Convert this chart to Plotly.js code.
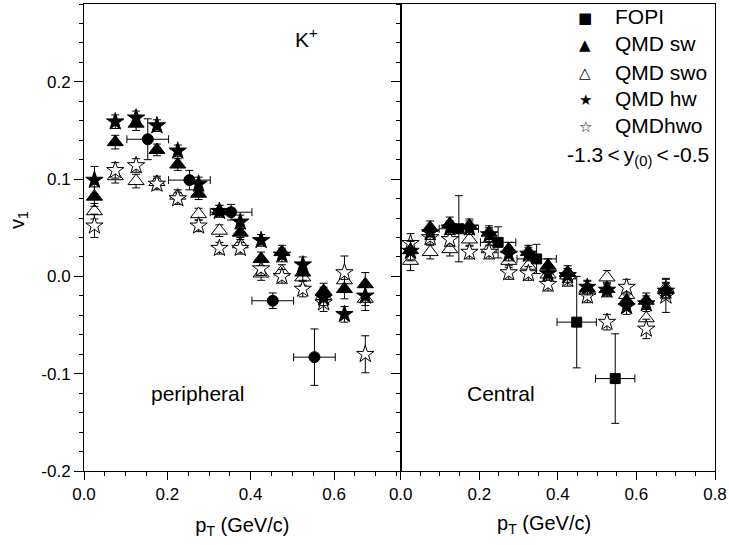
<!DOCTYPE html>
<html><head><meta charset="utf-8">
<script src="https://cdn.plot.ly/plotly-3.0.1.min.js"></script>
<style>html,body{margin:0;padding:0;background:#fff}#chart{width:729px;height:545px}</style>
</head><body><div id="chart"></div>
<script>
// ---------- data ----------
const ptModel = [0.025, 0.075, 0.125, 0.175, 0.225, 0.275, 0.325, 0.375, 0.425, 0.475, 0.525, 0.575, 0.625, 0.675];

// peripheral (left panel)
const perHw     = [0.099, 0.159, 0.163, 0.155, 0.129, 0.095, 0.067, 0.056, 0.037, 0.022, 0.012, -0.022, -0.039, -0.020];
const perHwErr  = [0.014, 0.007, 0.007, 0.006, 0.006, 0.007, 0.006, 0.007, 0.006, 0.007, 0.008, 0.008, 0.008, 0.010];
const perSw     = [0.082, 0.138, 0.157, 0.130, 0.115, 0.085, 0.067, 0.045, 0.018, 0.025, 0.004, -0.015, -0.013, -0.008];
const perSwErr  = [0.010, 0.007, 0.007, 0.006, 0.006, 0.006, 0.006, 0.007, 0.007, 0.007, 0.008, 0.008, 0.010, 0.012];
const perSwo    = [0.067, 0.103, 0.098, 0.097, 0.083, 0.064, 0.047, 0.033, 0.003, 0.005, -0.001, -0.020, -0.004, -0.023];
const perSwoErr = [0.008, 0.007, 0.007, 0.006, 0.006, 0.006, 0.006, 0.007, 0.007, 0.007, 0.008, 0.009, 0.010, 0.012];
const perHwo    = [0.052, 0.109, 0.114, 0.095, 0.080, 0.052, 0.029, 0.029, 0.008, 0.000, -0.013, -0.027, 0.004, -0.080];
const perHwoErr = [0.012, 0.008, 0.007, 0.006, 0.006, 0.006, 0.006, 0.006, 0.007, 0.007, 0.008, 0.009, 0.017, 0.019];
const perFopiPt   = [0.153, 0.253, 0.353, 0.453, 0.553];
const perFopi     = [0.141, 0.099, 0.066, -0.025, -0.083];
const perFopiErr  = [0.021, 0.010, 0.008, 0.008, 0.029];
const perFopiPtErr = [0.05, 0.05, 0.05, 0.05, 0.05];

// central (right panel)
const cenHw     = [0.026, 0.045, 0.050, 0.050, 0.043, 0.023, 0.023, 0.003, 0.001, -0.011, -0.014, -0.031, -0.028, -0.015];
const cenHwErr  = [0.010, 0.007, 0.007, 0.007, 0.007, 0.007, 0.007, 0.007, 0.007, 0.007, 0.007, 0.008, 0.008, 0.008];
const cenSw     = [0.027, 0.050, 0.054, 0.052, 0.045, 0.028, 0.025, 0.011, 0.004, -0.012, -0.013, -0.025, -0.025, -0.014];
const cenSwErr  = [0.010, 0.007, 0.007, 0.007, 0.007, 0.007, 0.007, 0.007, 0.007, 0.007, 0.007, 0.008, 0.008, 0.008];
const cenSwo    = [0.016, 0.025, 0.028, 0.038, 0.028, 0.016, 0.011, 0.002, 0.001, -0.015, -0.001, -0.019, -0.043, -0.012];
const cenSwoErr = [0.010, 0.007, 0.007, 0.007, 0.007, 0.007, 0.007, 0.007, 0.007, 0.007, 0.007, 0.008, 0.009, 0.010];
const cenHwo    = [0.034, 0.040, 0.038, 0.025, 0.025, 0.004, 0.003, -0.008, -0.003, -0.020, -0.047, -0.011, -0.054, -0.020];
const cenHwoErr = [0.010, 0.007, 0.007, 0.007, 0.007, 0.007, 0.007, 0.007, 0.007, 0.007, 0.008, 0.008, 0.010, 0.017];
const cenFopiPt   = [0.148, 0.248, 0.346, 0.448, 0.546];
const cenFopi     = [0.049, 0.035, 0.018, -0.047, -0.105];
const cenFopiErr  = [0.034, 0.016, 0.015, 0.047, 0.046];
const cenFopiPtErr = [0.05, 0.045, 0.05, 0.05, 0.05];

// ticks
const yTickVals = [-0.2, -0.1, 0.0, 0.1, 0.2];
const yTickText = ['-0.2', '-0.1', '0.0', '0.1', '0.2'];
const xTickValsL = [0.0, 0.2, 0.4, 0.6];
const xTickTextL = ['0.0', '0.2', '0.4', '0.6'];
const xTickValsR = [0.0, 0.2, 0.4, 0.6, 0.8];
const xTickTextR = ['0.0', '0.2', '0.4', '0.6', '0.8'];

// legend entries
const legendSymbols = ['\u25A0', '\u25B2', '\u25B3', '\u2605', '\u2606'];
const legendLabels = ['FOPI', 'QMD sw', 'QMD swo', 'QMD hw', 'QMDhwo'];

// ---------- styling ----------
const FONT = 'Liberation Sans, Arial, Helvetica, sans-serif';
const BLACK = '#000';
const ML = 84, MR = 14, MT = 4, MB = 74, W = 729, H = 545;
const PW = W - ML - MR, PH = H - MT - MB;
const px = v => (v - ML) / PW;
const py = v => (H - MB - v) / PH;
const split = px(400.7);

function errY(arr) { return {type: 'data', array: arr, visible: true, color: BLACK, thickness: 1, width: 4}; }
function errX(arr) { return {type: 'data', array: arr, visible: true, color: BLACK, thickness: 1, width: 4}; }

const sym = {
  sw:  {symbol: 'triangle-up', size: 14, color: BLACK, line: {color: BLACK, width: 1}},
  swo: {symbol: 'triangle-up', size: 14, color: '#fff', line: {color: BLACK, width: 1}},
  hw:  {symbol: 'star', size: 13, color: BLACK, line: {color: BLACK, width: 1}},
  hwo: {symbol: 'star', size: 13, color: '#fff', line: {color: BLACK, width: 1}},
  circ: {symbol: 'circle', size: 11, color: BLACK, line: {color: BLACK, width: 1}},
  sq:  {symbol: 'square', size: 10, color: BLACK, line: {color: BLACK, width: 1}}
};

function model(name, x, y, e, m, xa, ya) {
  return {type: 'scatter', mode: 'markers', name, x, y, error_y: errY(e), marker: m,
          xaxis: xa, yaxis: ya, showlegend: false, cliponaxis: false};
}

const traces = [
  model('QMD swo', ptModel, perSwo, perSwoErr, sym.swo, 'x', 'y'),
  model('QMDhwo', ptModel, perHwo, perHwoErr, sym.hwo, 'x', 'y'),
  model('QMD sw', ptModel, perSw, perSwErr, sym.sw, 'x', 'y'),
  model('QMD hw', ptModel, perHw, perHwErr, sym.hw, 'x', 'y'),
  {type: 'scatter', mode: 'markers', name: 'FOPI', x: perFopiPt, y: perFopi,
   error_y: errY(perFopiErr), error_x: errX(perFopiPtErr), marker: sym.circ,
   xaxis: 'x', yaxis: 'y', showlegend: false},
  model('QMD swo', ptModel, cenSwo, cenSwoErr, sym.swo, 'x2', 'y2'),
  model('QMDhwo', ptModel, cenHwo, cenHwoErr, sym.hwo, 'x2', 'y2'),
  model('QMD sw', ptModel, cenSw, cenSwErr, sym.sw, 'x2', 'y2'),
  model('QMD hw', ptModel, cenHw, cenHwErr, sym.hw, 'x2', 'y2'),
  {type: 'scatter', mode: 'markers', name: 'FOPI', x: cenFopiPt, y: cenFopi,
   error_y: errY(cenFopiErr), error_x: errX(cenFopiPtErr), marker: sym.sq,
   xaxis: 'x2', yaxis: 'y2', showlegend: false}
];

const tickFont = {family: FONT, size: 17, color: BLACK};
const titleFont = {family: FONT, size: 20, color: BLACK};
const textFont = {family: FONT, size: 21, color: BLACK};
const yRange = [-0.2, 0.28];

function xAxis(domain, range, vals, text, anchor, title) {
  return {domain, range, anchor, tickmode: 'array', tickvals: vals, ticktext: text,
    showgrid: false, zeroline: false, showline: true, linecolor: BLACK, linewidth: 1, mirror: true,
    ticks: 'outside', ticklen: 8, tickwidth: 1, tickcolor: BLACK, tickfont: tickFont,
    minor: {tickmode: 'linear', tick0: 0, dtick: 0.05, ticks: 'outside', ticklen: 4, tickwidth: 1, tickcolor: BLACK, showgrid: false},
    title: {text: title, font: titleFont, standoff: 14}, fixedrange: true};
}
function topAxis(over, range, anchor) {
  return {overlaying: over, side: 'top', anchor, range, showgrid: false, zeroline: false, showline: false,
    showticklabels: false, tickmode: 'linear', tick0: 0, dtick: 0.2, ticks: 'inside', ticklen: 6, tickwidth: 1, tickcolor: BLACK,
    minor: {tickmode: 'linear', tick0: 0, dtick: 0.05, ticks: 'inside', ticklen: 4, tickwidth: 1, tickcolor: BLACK, showgrid: false}};
}
function yAxisBase(anchor, labels) {
  return {domain: [0, 1], range: yRange, anchor, tickmode: 'array', tickvals: yTickVals, ticktext: yTickText,
    showticklabels: labels, showgrid: false, zeroline: false, showline: true, linecolor: BLACK, linewidth: 1, mirror: true,
    ticks: 'outside', ticklen: 9, tickwidth: 1, tickcolor: BLACK, tickfont: tickFont,
    minor: {tickmode: 'linear', tick0: -0.2, dtick: 0.02, ticks: 'outside', ticklen: 4, tickwidth: 1, tickcolor: BLACK, showgrid: false},
    fixedrange: true};
}

const THIN = '\u2009';
const annotations = [
  {text: 'v<sub>1</sub>', textangle: -90, x: px(18), y: py(220), font: titleFont},
  {text: 'p<sub>T</sub> (GeV/c)', x: px(544), y: py(524), font: titleFont},
  {text: 'K<sup>+</sup>', x: px(293), y: py(38), xanchor: 'left', font: textFont},
  {text: 'peripheral', x: px(197), y: py(393), font: textFont},
  {text: 'Central', x: px(501), y: py(393), font: textFont},
  {text: '-1.3' + THIN + '<' + THIN + 'y<sub>(0)</sub>' + THIN + '<' + THIN + '-0.5', x: px(565), y: py(156), xanchor: 'left', font: textFont}
];
const rowsY = [17, 44, 72, 99, 126];
legendLabels.forEach((lab, i) => {
  annotations.push({text: legendSymbols[i], x: px(585), y: py(rowsY[i] + 1), font: {family: 'DejaVu Sans', size: 15, color: BLACK}});
  annotations.push({text: lab, x: px(613), y: py(rowsY[i]), xanchor: 'left', font: textFont});
});
annotations.forEach(a => { a.xref = 'paper'; a.yref = 'paper'; a.showarrow = false; if (!a.xanchor) a.xanchor = 'center'; a.yanchor = 'middle'; });

const layout = {
  width: W, height: H, margin: {l: ML, r: MR, t: MT, b: MB},
  paper_bgcolor: '#fff', plot_bgcolor: '#fff', showlegend: false,
  font: {family: FONT, color: BLACK},
  xaxis: xAxis([0, split], [0, 0.76], xTickValsL, xTickTextL, 'y', 'p<sub>T</sub> (GeV/c)'),
  xaxis2: xAxis([split, 1], [0, 0.8], xTickValsR, xTickTextR, 'y2', ''),
  xaxis3: topAxis('x', [0, 0.76], 'y'),
  xaxis4: topAxis('x2', [0, 0.8], 'y2'),
  yaxis: yAxisBase('x', true),
  yaxis2: yAxisBase('x2', false),
  yaxis3: Object.assign(yAxisBase('x2', false), {overlaying: 'y2', side: 'right', showline: false, mirror: false, ticks: 'inside',
    minor: {tickmode: 'linear', tick0: -0.2, dtick: 0.02, ticks: 'inside', ticklen: 4, tickwidth: 1, tickcolor: BLACK, showgrid: false}}),
  annotations
};

Plotly.newPlot('chart', traces, layout, {displayModeBar: false, staticPlot: true});
</script></body></html>
